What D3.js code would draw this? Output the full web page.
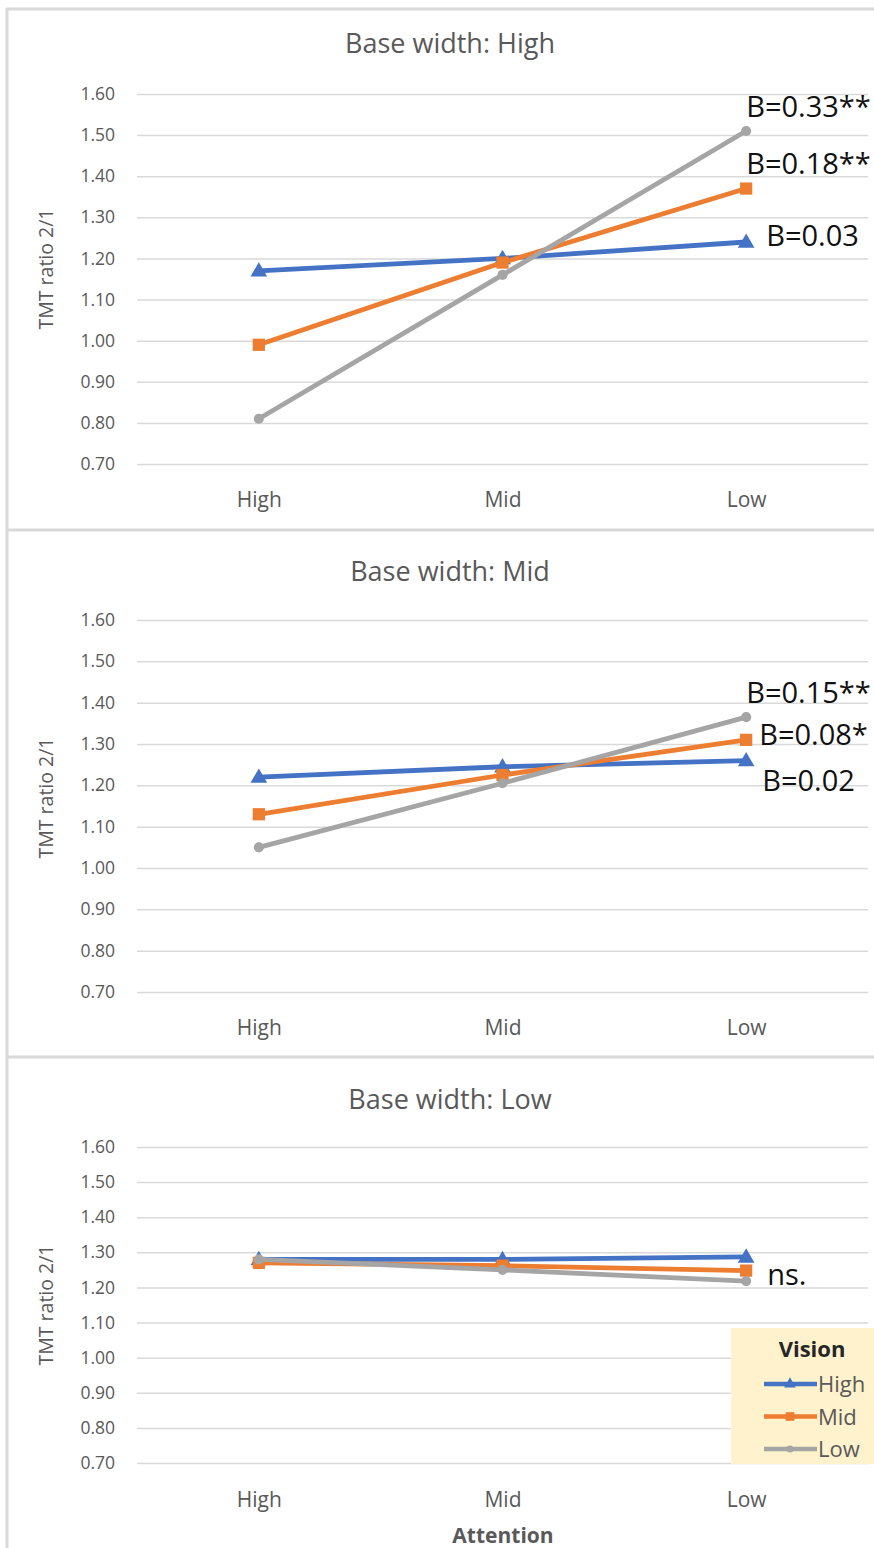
<!DOCTYPE html>
<html>
<head>
<meta charset="utf-8">
<script src="https://cdn.jsdelivr.net/npm/d3@7"></script>
<style>
  html, body { margin: 0; padding: 0; background: #ffffff; }
  svg { display: block; }
  text { font-family: "Open Sans", "Noto Sans", sans-serif; }
</style>
</head>
<body>
<svg id="chart" width="874" height="1548"></svg>
<script>
// ---------- DATA ----------
const attentionLevels = ["High", "Mid", "Low"];
const visionLevels = ["High", "Mid", "Low"];
const panelTitles = ["Base width: High", "Base width: Mid", "Base width: Low"];
const yTickValues = [0.70, 0.80, 0.90, 1.00, 1.10, 1.20, 1.30, 1.40, 1.50, 1.60];

// Base width: High
const baseHighVisionHigh = [1.17, 1.20, 1.24];
const baseHighVisionMid  = [0.99, 1.19, 1.37];
const baseHighVisionLow  = [0.81, 1.16, 1.51];
// Base width: Mid
const baseMidVisionHigh = [1.22, 1.245, 1.26];
const baseMidVisionMid  = [1.13, 1.225, 1.31];
const baseMidVisionLow  = [1.05, 1.205, 1.365];
// Base width: Low
const baseLowVisionHigh = [1.28, 1.28, 1.287];
const baseLowVisionMid  = [1.27, 1.262, 1.248];
const baseLowVisionLow  = [1.28, 1.25, 1.218];

// Slope annotations
const annotationsHigh = ["B=0.03", "B=0.18**", "B=0.33**"];
const annotationsMid  = ["B=0.02", "B=0.08*", "B=0.15**"];
const annotationsLow  = ["ns."];

const yAxisTitle = "TMT ratio 2/1";
const xAxisTitle = "Attention";
const legendTitle = "Vision";

// ---------- STYLE ----------
const colors = ["#4472C4", "#ED7D31", "#A5A5A5"];
const symbols = [d3.symbolTriangle, d3.symbolSquare, d3.symbolCircle];
const symbolSizes = [120, 150, 80];
const gridColor = "#d9d9d9";
const textGray = "#595959";

const panels = [
  { title: panelTitles[0], series: [baseHighVisionHigh, baseHighVisionMid, baseHighVisionLow],
    top: 8, titleY: 53, yTop: 94, yBottom: 464, xLabelY: 507, yTitleOff: -10,
    notes: [
      { text: annotationsHigh[2], s: 2, dx: 0, dy: -14 },
      { text: annotationsHigh[1], s: 1, dx: 0, dy: -15 },
      { text: annotationsHigh[0], s: 0, dx: 20, dy: 4 }
    ] },
  { title: panelTitles[1], series: [baseMidVisionHigh, baseMidVisionMid, baseMidVisionLow],
    top: 530, titleY: 581, yTop: 620, yBottom: 992, xLabelY: 1035, yTitleOff: -8,
    notes: [
      { text: annotationsMid[2], s: 2, dx: 0, dy: -14 },
      { text: annotationsMid[1], s: 1, dx: 13, dy: 5 },
      { text: annotationsMid[0], s: 0, dx: 16, dy: 30 }
    ] },
  { title: panelTitles[2], series: [baseLowVisionHigh, baseLowVisionMid, baseLowVisionLow],
    top: 1057, titleY: 1109, yTop: 1147, yBottom: 1463, xLabelY: 1507, yTitleOff: 0,
    notes: [
      { text: annotationsLow[0], s: 1, dx: 21, dy: 14 }
    ] }
];

const svg = d3.select("#chart");
svg.append("rect").attr("width", 874).attr("height", 1548).attr("fill", "#fff");

const x = d3.scalePoint().domain(attentionLevels).range([137, 868]).padding(0.5);

panels.forEach((p, pi) => {
  const g = svg.append("g");
  const y = d3.scaleLinear().domain([0.70, 1.60]).range([p.yBottom, p.yTop]);

  // title
  g.append("text").attr("x", 450).attr("y", p.titleY)
    .attr("text-anchor", "middle").attr("font-size", 27).attr("fill", textGray)
    .text(p.title);

  // gridlines + y labels via axis
  const yAxis = d3.axisLeft(y).tickValues(yTickValues)
    .tickSize(-(868 - 137)).tickPadding(22).tickFormat(d3.format(".2f"));
  const ya = g.append("g").attr("transform", "translate(137,0)").call(yAxis);
  ya.select(".domain").remove();
  ya.selectAll(".tick line").attr("stroke", gridColor).attr("stroke-width", 1.5);
  ya.selectAll(".tick text").attr("font-size", 17.5).attr("fill", textGray)
    .attr("font-family", "'Open Sans', sans-serif");

  // x labels via axis
  const xAxis = d3.axisBottom(x).tickSize(0).tickPadding(0);
  const xa = g.append("g").attr("transform", `translate(0,${p.xLabelY - 15})`).call(xAxis);
  xa.select(".domain").remove();
  xa.selectAll(".tick text").attr("font-size", 21).attr("fill", textGray)
    .attr("font-family", "'Open Sans', sans-serif");

  // y axis title
  const cy = (p.yTop + p.yBottom) / 2 + p.yTitleOff;
  g.append("text").attr("transform", `translate(53,${cy}) rotate(-90)`)
    .attr("text-anchor", "middle").attr("font-size", 19.5).attr("fill", textGray)
    .text(yAxisTitle);

  // series
  const line = d3.line().x((d, i) => x(attentionLevels[i])).y(d => y(d));
  p.series.forEach((vals, si) => {
    g.append("path").datum(vals).attr("d", line)
      .attr("fill", "none").attr("stroke", colors[si]).attr("stroke-width", 4.8)
      .attr("stroke-linejoin", "round");
    g.selectAll(null).data(vals).enter().append("path")
      .attr("d", d3.symbol().type(symbols[si]).size(symbolSizes[si]))
      .attr("transform", (d, i) => `translate(${x(attentionLevels[i])},${y(d) + (si === 0 ? 1 : 0)})`)
      .attr("fill", colors[si]);
  });

  // annotations
  p.notes.forEach(n => {
    const vals = p.series[n.s];
    g.append("text")
      .attr("x", x("Low") + n.dx)
      .attr("y", y(vals[2]) + n.dy)
      .attr("font-size", 29).attr("fill", "#111")
      .text(n.text);
  });
});

// x axis title (bottom panel)
svg.append("text").attr("x", 503).attr("y", 1543)
  .attr("text-anchor", "middle").attr("font-size", 21).attr("font-weight", "bold")
  .attr("fill", textGray).text(xAxisTitle);

// legend
const lg = svg.append("g");
lg.append("rect").attr("x", 731).attr("y", 1328).attr("width", 150).attr("height", 136)
  .attr("fill", "#fff2cc");
lg.append("text").attr("x", 812).attr("y", 1357).attr("text-anchor", "middle")
  .attr("font-size", 22).attr("font-weight", "bold").attr("fill", "#262626").text(legendTitle);
const legY = d3.scalePoint().domain(visionLevels).range([1384, 1449]);
visionLevels.forEach((v, i) => {
  const yy = legY(v);
  lg.append("line").attr("x1", 764).attr("x2", 817).attr("y1", yy).attr("y2", yy)
    .attr("stroke", colors[i]).attr("stroke-width", 4.5);
  lg.append("path").attr("d", d3.symbol().type(symbols[i]).size(symbolSizes[i] * 0.5))
    .attr("transform", `translate(790,${yy})`).attr("fill", colors[i]);
  lg.append("text").attr("x", 818).attr("y", yy + 8).attr("font-size", 22)
    .attr("fill", textGray).text(v);
});

// panel borders
const borders = svg.append("g").attr("stroke", gridColor).attr("stroke-width", 3);
borders.append("line").attr("x1", 7).attr("x2", 7).attr("y1", 8).attr("y2", 1548);
borders.append("line").attr("x1", 6).attr("x2", 874).attr("y1", 9).attr("y2", 9);
borders.append("line").attr("x1", 6).attr("x2", 874).attr("y1", 530).attr("y2", 530);
borders.append("line").attr("x1", 6).attr("x2", 874).attr("y1", 1057).attr("y2", 1057);
</script>
</body>
</html>
